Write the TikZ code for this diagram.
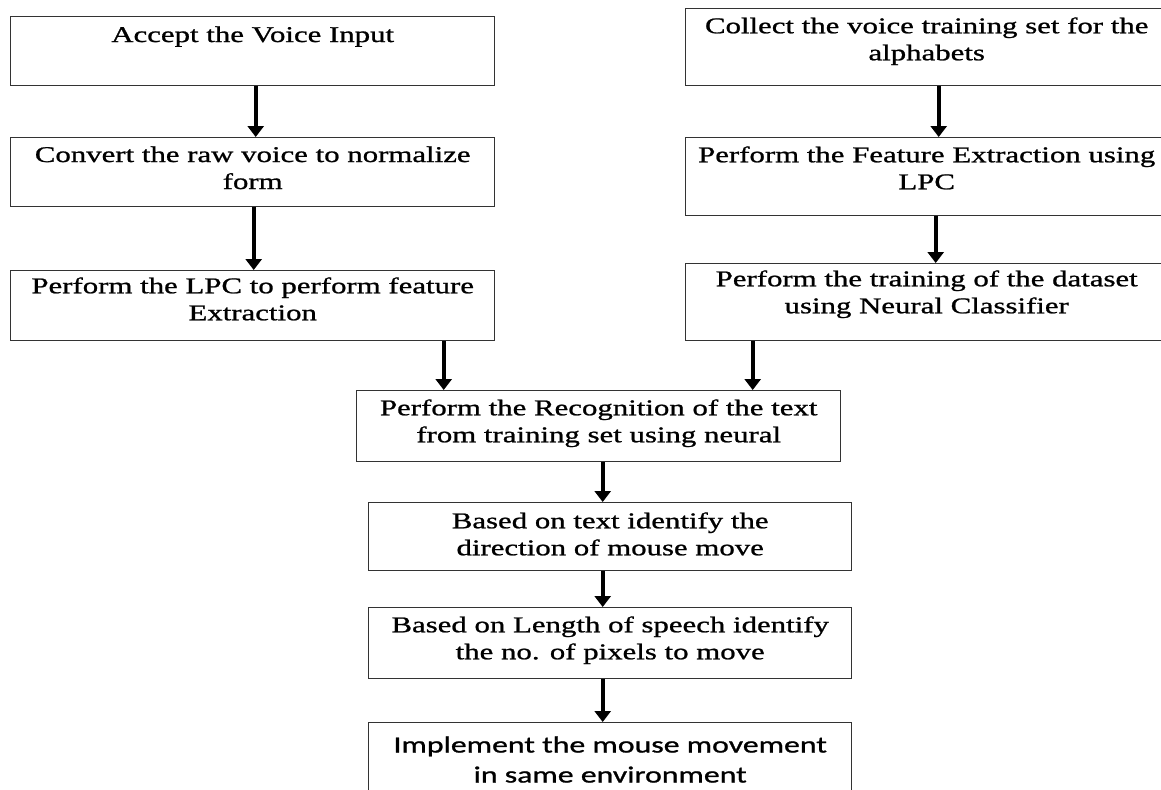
\documentclass[tikz,border=0pt]{standalone}
\usepackage{fontspec}
\setmainfont{Liberation Serif}[FakeStretch=1.37, FakeBold=1]
\newfontfamily\calibrifont{Carlito}[FakeStretch=1.37, FakeBold=1]
\usetikzlibrary{arrows.meta}
\tikzset{>=latex,
	box/.style={draw=black!80, line width=0.7pt, inner sep=0pt, anchor=north west},
	txt/.style={inner sep=0pt, anchor=north, align=center, font=\fontsize{11.25}{13.5}\selectfont},
	sanstxt/.style={inner sep=0pt, anchor=north, align=center, font=\calibrifont\fontsize{11.6}{15}\selectfont},
	flow/.style={line width=1.9pt, -{Triangle[width=8pt,length=5.5pt]}}
}

\begin{document}
\begin{tikzpicture}[x=0.5pt, y=-0.5pt]
	%\draw[help lines] (0,0) grid (1161,789);
	\useasboundingbox (0,0) rectangle (1161,789);
	% left column
	\node[box, minimum width=242pt, minimum height=34.5pt] (acc) at (10,16) {};
	\node[box, minimum width=242pt, minimum height=34.5pt] (conv) at (10,137) {};
	\node[box, minimum width=242pt, minimum height=35pt] (lpc) at (10,270) {};
	% right column
	\node[box, minimum width=241pt, minimum height=38.5pt] (coll) at (685,8) {};
	\node[box, minimum width=241pt, minimum height=39pt] (feat) at (685,137) {};
	\node[box, minimum width=241pt, minimum height=38.5pt] (train) at (685,263) {};
	% middle column
	\node[box, minimum width=242pt, minimum height=35.5pt] (rec) at (356,390) {};
	\node[box, minimum width=241.5pt, minimum height=34pt] (dir) at (368,502) {};
	\node[box, minimum width=241.5pt, minimum height=35.5pt] (pix) at (368,607) {};
	\node[box, minimum width=241.5pt, minimum height=39pt] (impl) at (368,722) {};

	% texts
	\node[txt] (acct) at ([yshift=-5pt]acc.north) {Accept the Voice Input};
	\node[txt] (convt) at ([yshift=-4.5pt]conv.north) {Convert the raw voice to normalize\\form};
	\node[txt] (lpct) at ([yshift=-3.5pt]lpc.north) {Perform the LPC to perform feature\\Extraction};
	\node[txt] (collt) at ([yshift=-4.5pt]coll.north) {Collect the voice training set for the\\alphabets};
	\node[txt] (featt) at ([yshift=-4.5pt]feat.north) {Perform the Feature Extraction using\\LPC};
	\node[txt] (traint) at ([yshift=-3.5pt]train.north) {Perform the training of the dataset\\using Neural Classifier};
	\node[txt] (rect) at ([yshift=-4.5pt]rec.north) {Perform the Recognition of the text\\from training set using neural};
	\node[txt] (dirt) at ([yshift=-5pt]dir.north) {Based on text identify the\\direction of mouse move};
	\node[txt] (pixt) at ([yshift=-4.5pt]pix.north) {Based on Length of speech identify\\the no. of pixels to move};
	\node[sanstxt] (implt) at ([yshift=-7pt]impl.north) {Implement the mouse movement\\in same environment};

	% arrows
	\draw[flow] ([xshift=1.5pt]acc.south) -- ([xshift=1.5pt]conv.north);
	\draw[flow] ([xshift=0.5pt]conv.south) -- ([xshift=0.5pt]lpc.north);
	\draw[flow] ([xshift=6pt]coll.south) -- ([xshift=6pt]feat.north);
	\draw[flow] ([xshift=4.5pt]feat.south) -- ([xshift=4.5pt]train.north);
	\draw[flow] ([xshift=95.5pt]lpc.south) -- ([xshift=-77.5pt]rec.north);
	\draw[flow] ([xshift=-87pt]train.south) -- ([xshift=77pt]rec.north);
	\draw[flow] ([xshift=2pt]rec.south) -- ([xshift=-3.75pt]dir.north);
	\draw[flow] ([xshift=-3.75pt]dir.south) -- ([xshift=-3.75pt]pix.north);
	\draw[flow] ([xshift=-3.75pt]pix.south) -- ([xshift=-3.75pt]impl.north);
\end{tikzpicture}
\end{document}
